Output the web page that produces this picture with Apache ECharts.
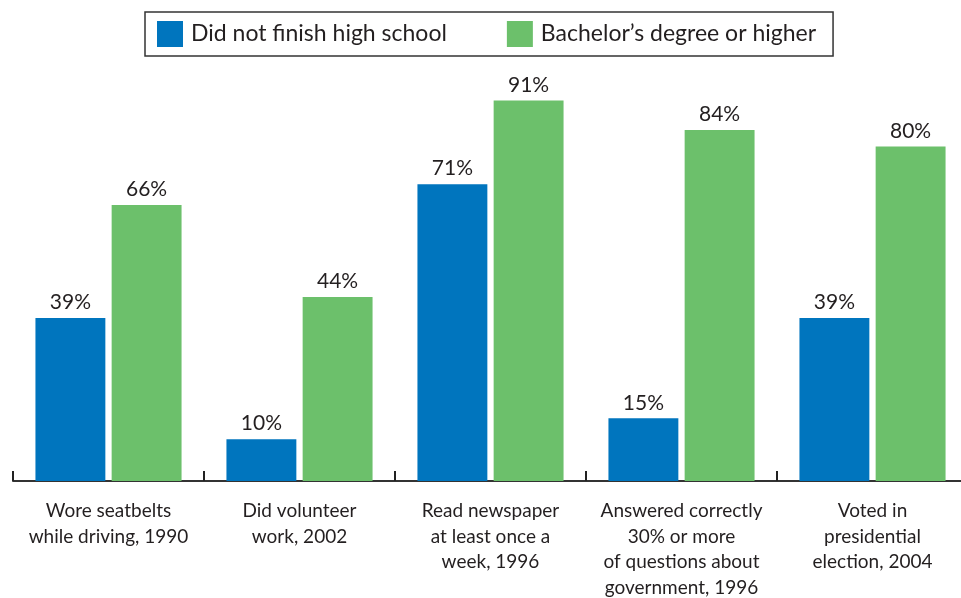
<!DOCTYPE html>
<html>
<head>
<meta charset="utf-8">
<script src="https://cdn.jsdelivr.net/npm/echarts@6/dist/echarts.min.js"></script>
<style>html,body{margin:0;padding:0;background:#fff}#c{width:961px;height:598px}</style>
</head>
<body>
<div id="c"></div>
<script>
const categories = [
  "Wore seatbelts\nwhile driving, 1990",
  "Did volunteer\nwork, 2002",
  "Read newspaper\nat least once a\nweek, 1996",
  "Answered correctly\n30% or more\nof questions about\ngovernment, 1996",
  "Voted in\npresidential\nelection, 2004"
];
const seriesNames = ["Did not finish high school", "Bachelor\u2019s degree or higher"];
const noHighSchool = [39, 10, 71, 15, 39];
const bachelor = [66, 44, 91, 84, 80];

const FONT = "Lato";
const TXT = "#231f20";
const chart = echarts.init(document.getElementById('c'));
const labelCfg = {
  show: true, position: 'top', distance: 5,
  formatter: p => p.value + '%',
  color: TXT, fontFamily: FONT, fontSize: 21
};
chart.setOption({
  animation: false,
  textStyle: { fontFamily: FONT },
  legend: {
    left: 145, top: 12,
    padding: [9, 17, 9, 12],
    borderColor: '#333', borderWidth: 1.5, borderRadius: 0,
    itemWidth: 26, itemHeight: 26, itemGap: 60,
    icon: 'rect',
    textStyle: { color: TXT, fontFamily: FONT, fontSize: 23, padding: [0, 0, 0, 3] },
    data: seriesNames
  },
  grid: { left: 13, width: 955, top: 63, bottom: 117, containLabel: false, outerBoundsMode: 'none' },
  xAxis: {
    type: 'category', data: categories,
    axisLine: { show: true, lineStyle: { color: '#333', width: 2 } },
    axisTick: { show: true, interval: 0, inside: true, length: 10, lineStyle: { color: '#222', width: 2 } },
    axisLabel: { color: TXT, fontFamily: FONT, fontSize: 19, lineHeight: 25.7, margin: 17, interval: 0 }
  },
  yAxis: { type: 'value', min: 0, max: 100, show: false, splitLine: { show: false } },
  series: [
    { name: seriesNames[0], type: 'bar', data: noHighSchool, itemStyle: { color: '#0075be' },
      barCategoryGap: '23.5%', barGap: '9%', label: labelCfg },
    { name: seriesNames[1], type: 'bar', data: bachelor, itemStyle: { color: '#6cc06b' },
      barCategoryGap: '23.5%', barGap: '9%', label: labelCfg }
  ]
});
</script>
</body>
</html>
